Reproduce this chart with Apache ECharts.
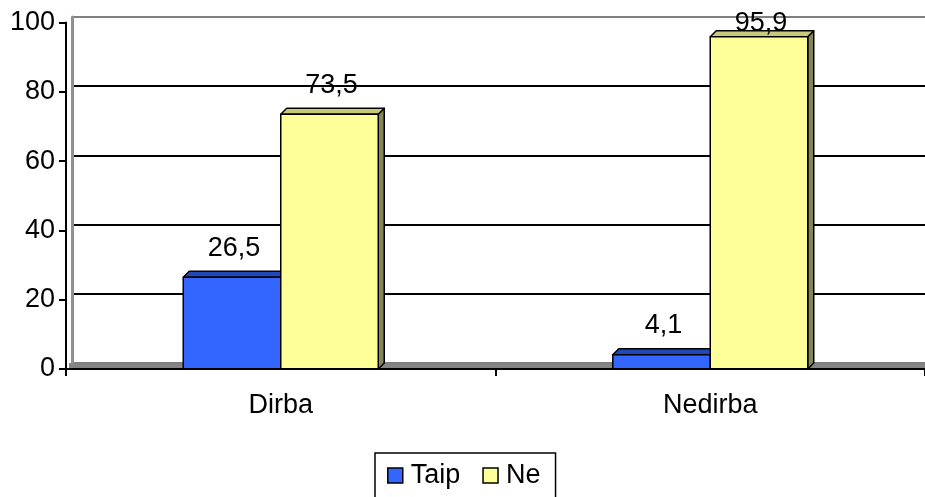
<!DOCTYPE html>
<html><head><meta charset="utf-8">
<script src="https://cdn.jsdelivr.net/npm/echarts@6/dist/echarts.min.js"></script>
<style>html,body{margin:0;padding:0;background:#fff}#c{width:925px;height:497px}</style>
</head><body><div id="c"></div>
<script>
const categories = ['Dirba', 'Nedirba'];
const taip = [26.5, 4.1];
const ne = [73.5, 95.9];
const yTicks = [0, 20, 40, 60, 80, 100];

const FONT = 'Liberation Sans, Arial, sans-serif';
function fmt(v){ return String(v).replace('.', ','); }

function makeRender(side, face, topC, sideC){
  return function(params, api){
    const xi = api.value(0), v = api.value(1);
    const c = api.coord([xi, v]);
    const b = api.coord([xi, 0]);
    const cw = api.size([1, 0])[0];
    const bw = cw * 0.227;
    const x0 = side < 0 ? c[0] - bw : c[0];
    const d = 6;
    const st = {stroke:'#000', lineWidth:1.5, lineJoin:'round'};
    return {type:'group', children:[
      {type:'polygon', shape:{points:[[x0+bw,c[1]],[x0+bw+d,c[1]-d],[x0+bw+d,b[1]-d],[x0+bw,b[1]]]}, style:Object.assign({fill:sideC}, st)},
      {type:'polygon', shape:{points:[[x0,c[1]],[x0+d,c[1]-d],[x0+bw+d,c[1]-d],[x0+bw,c[1]]]}, style:Object.assign({fill:topC}, st)},
      {type:'rect', shape:{x:x0, y:c[1], width:bw, height:b[1]-c[1]}, style:Object.assign({fill:face}, st)},
      {type:'text', z2:10, style:{text:fmt(v), x:x0+bw/2+2, y:Math.max(c[1]-29, 24), align:'center', verticalAlign:'middle', font:'27px ' + FONT, fill:'#000'}}
    ]};
  };
}

const chart = echarts.init(document.getElementById('c'));
chart.setOption({
  animation:false,
  backgroundColor:'#fff',
  grid:[
    {left:66, right:0, top:22.5, bottom:128},
    {left:72, right:-6, top:17, bottom:134},
    {left:69, right:0, top:363, bottom:128, show:true, backgroundColor:'#858585', borderWidth:0}
  ],
  legend:{
    top:453, left:375, padding:[9,15,20,12],
    borderColor:'#000', borderWidth:1.5,
    itemWidth:15, itemHeight:15, itemGap:22,
    textStyle:{fontFamily:FONT, fontSize:27, color:'#000', padding:[0,0,0,3]},
    icon:'rect',
    itemStyle:{borderColor:'#000', borderWidth:1.5},
    data:['Taip','Ne']
  },
  xAxis:[
    {
      type:'category', data:categories, gridIndex:0, z:5,
      axisLine:{lineStyle:{color:'#000', width:2}},
      axisTick:{show:true, length:7, lineStyle:{color:'#000', width:2}},
      axisLabel:{fontFamily:FONT, fontSize:27, color:'#000', margin:23},
      splitLine:{show:false}
    },
    {
      type:'category', data:categories, gridIndex:1, show:false
    },
    {
      type:'category', data:categories, gridIndex:2, show:false
    }
  ],
  yAxis:[
    {
      type:'value', min:0, max:100, interval:20, gridIndex:0, z:5,
      axisLine:{show:true, lineStyle:{color:'#000', width:2}},
      axisTick:{show:true, length:7, lineStyle:{color:'#000', width:2}},
      axisLabel:{fontFamily:FONT, fontSize:27, color:'#000', margin:11, padding:[4,0,0,0],
        formatter:function(v){ return yTicks.indexOf(v) >= 0 ? String(v) : ''; }},
      splitLine:{show:false}
    },
    {
      type:'value', min:0, max:100, interval:20, gridIndex:1, z:1,
      axisLine:{show:true, lineStyle:{color:'#909090', width:3}},
      axisTick:{show:false}, axisLabel:{show:false},
      splitLine:{show:true, lineStyle:{color:['#808080','#000','#000','#000','#000','#808080'], width:2}}
    },
    {
      type:'value', min:0, max:1, gridIndex:2, show:false, splitLine:{show:false}
    }
  ],
  series:[
    {name:'Taip', type:'custom', renderItem:makeRender(-1,'#3366FF','#2248B8','#1d3a99'),
      xAxisIndex:0, yAxisIndex:0, z:3,
      itemStyle:{color:'#3366FF'}, encode:{x:0,y:1},
      data:categories.map((c,i)=>[i, taip[i]])},
    {name:'Ne', type:'custom', renderItem:makeRender(1,'#FFFF99','#C9C97A','#85855A'),
      xAxisIndex:0, yAxisIndex:0, z:3,
      itemStyle:{color:'#FFFF99'}, encode:{x:0,y:1},
      data:categories.map((c,i)=>[i, ne[i]])}
  ]
});
</script></body></html>
